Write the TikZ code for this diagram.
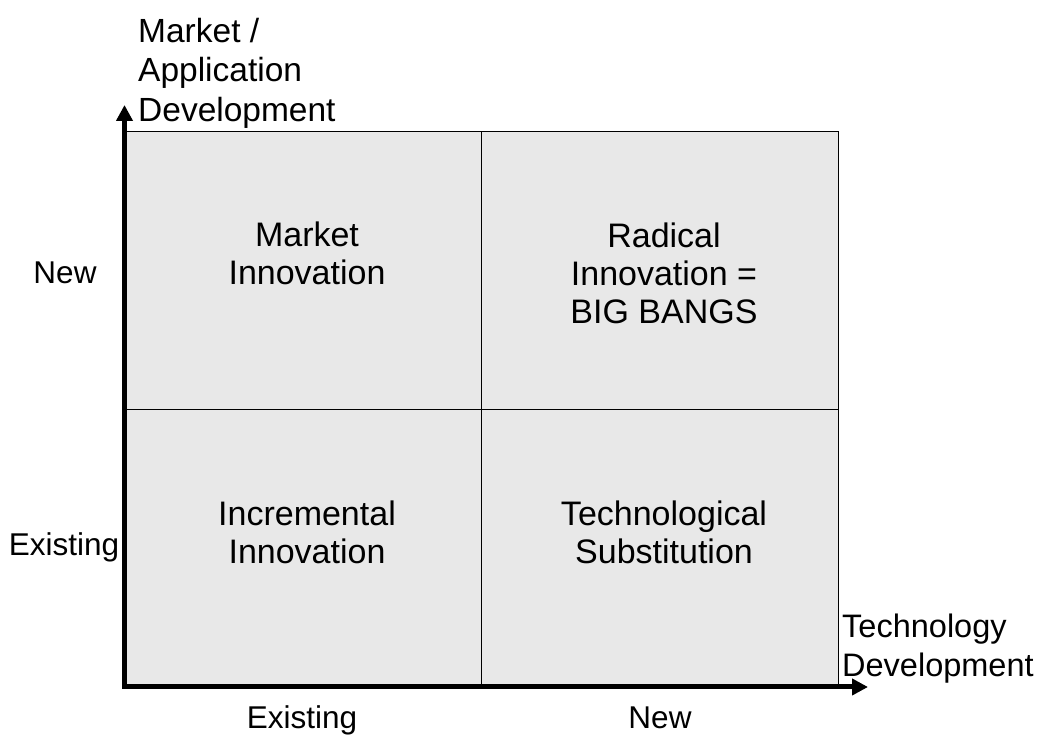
\documentclass[tikz,border=0pt]{standalone}
\usepackage{fontspec}
\setmainfont{Liberation Sans}
\usetikzlibrary{arrows.meta}
\definecolor{cellgray}{RGB}{232,232,232}
\begin{document}
\begin{tikzpicture}[x=1pt,y=1pt,
  cell/.style={draw=black, line width=1.3pt, fill=cellgray, rectangle,
    minimum width=357pt, minimum height=278pt, inner sep=0pt, anchor=south west},
  celltext/.style={font=\fontsize{34}{38}\selectfont, align=center, inner sep=0pt},
  sidetext/.style={font=\fontsize{31.5}{38}\selectfont, inner sep=0pt, anchor=base},
  axistitle/.style={font=\fontsize{33.5}{39.5}\selectfont, align=left, inner sep=0pt, anchor=north west},
  axis/.style={line width=5pt, -{Triangle[length=16pt,width=16pt]}}
]
\useasboundingbox (0,0) rectangle (1052,736);

% the four quadrants
\node[cell] (ll) at (124,48) {};
\node[cell] (lr) at (481,48) {};
\node[cell] (ul) at (124,326) {};
\node[cell] (ur) at (481,326) {};

% quadrant labels
\node[celltext] (tMarket)  at (307,483) {Market\\Innovation};
\node[celltext] (tRadical) at (664,463) {Radical\\Innovation =\\BIG BANGS};
\node[celltext] (tIncr)    at (307,204) {Incremental\\Innovation};
\node[celltext] (tTech)    at (664,204) {Technological\\Substitution};

% axes
\coordinate (origin) at (124.5,49);
\coordinate (ytip) at (124.5,631);
\coordinate (xtip) at (868,49);
\draw[axis] (origin) -- (ytip);
\draw[axis] (122,49) -- (xtip);

% axis titles
\node[axistitle] (ytitle) at (138,718) {Market /\\Application\\Development};
\node[axistitle, font=\fontsize{32.5}{38.5}\selectfont] (xtitle) at (842,122) {Technology\\Development};

% tick labels
\node[sidetext] (yNew)   at (65,452) {New};
\node[sidetext] (yExist) at (64,180) {Existing};
\node[sidetext] (xExist) at (302,7) {Existing};
\node[sidetext] (xNew)   at (660,7) {New};
\end{tikzpicture}
\end{document}
